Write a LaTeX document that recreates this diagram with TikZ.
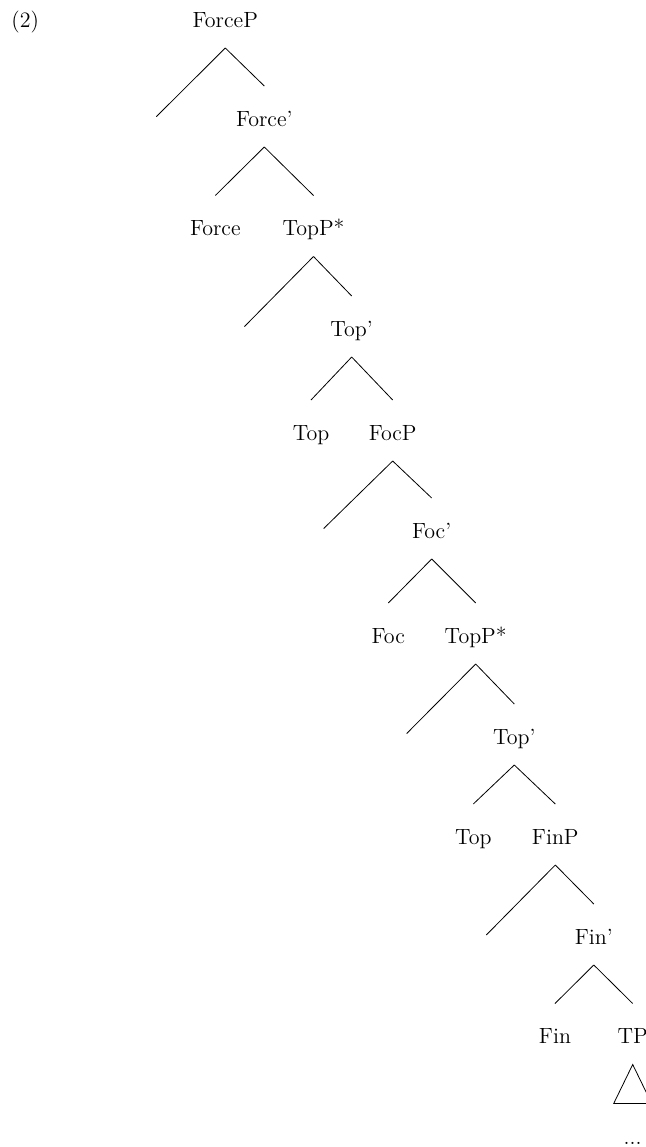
\documentclass[tikz,border=0pt]{standalone}
\usepackage{amsmath, amssymb}
\usepackage{tikz}
\usepackage{xcolor}

\begin{document}
\begin{tikzpicture}[x=0.5pt, y=-0.5pt, every node/.style={anchor=base, inner sep=0pt, font=\fontsize{11}{13.6}\selectfont}]
            \clip (0,0) rectangle (646,1147);

            \node[anchor=base west] (ex) at (11,27) {(2)};

            \node (forceP) at (225.3,27) {ForceP};
            \node (forceB) at (264.3,126) {Force'};
            \node (force) at (215.3,235.5) {Force};
            \node (topPa) at (313.5,235.5) {TopP*};
            \node (topBa) at (351.7,336) {Top'};
            \node (topa) at (311,440) {Top};
            \node (focP) at (392.7,440) {FocP};
            \node (focB) at (431.7,538) {Foc'};
            \node (foc) at (388.3,643) {Foc};
            \node (topPb) at (475.7,643) {TopP*};
            \node (topBb) at (514.3,744) {Top'};
            \node (topb) at (473.3,844) {Top};
            \node (finP) at (555.3,844) {FinP};
            \node (finB) at (593.8,944) {Fin'};
            \node (fin) at (555,1043.5) {Fin};
            \node (tp) at (632.7,1043.5) {TP};
            \node (dots) at (632.7,1144) {...};

            \coordinate (specA) at (156.3,116.7);
            \coordinate (specB) at (244.5,326.5);
            \coordinate (specC) at (323.7,528.5);
            \coordinate (specD) at (406.7,733.5);
            \coordinate (specE) at (486.3,935);

            \draw ([yshift=-10.5pt]forceP.base) -- (specA);
            \draw ([yshift=-10.5pt]forceP.base) -- ([yshift=20pt]forceB.base);
            \draw ([yshift=-10.5pt]forceB.base) -- ([yshift=20pt]force.base);
            \draw ([yshift=-10.5pt]forceB.base) -- ([yshift=20pt]topPa.base);

            \draw ([yshift=-10.5pt]topPa.base) -- (specB);
            \draw ([yshift=-10.5pt]topPa.base) -- ([yshift=20pt]topBa.base);
            \draw ([yshift=-10.5pt]topBa.base) -- ([yshift=20pt]topa.base);
            \draw ([yshift=-10.5pt]topBa.base) -- ([yshift=20pt]focP.base);

            \draw ([yshift=-10.5pt]focP.base) -- (specC);
            \draw ([yshift=-10.5pt]focP.base) -- ([yshift=20pt]focB.base);
            \draw ([yshift=-10.5pt]focB.base) -- ([yshift=20pt]foc.base);
            \draw ([yshift=-10.5pt]focB.base) -- ([yshift=20pt]topPb.base);

            \draw ([yshift=-10.5pt]topPb.base) -- (specD);
            \draw ([yshift=-10.5pt]topPb.base) -- ([yshift=20pt]topBb.base);
            \draw ([yshift=-10.5pt]topBb.base) -- ([yshift=20pt]topb.base);
            \draw ([yshift=-10.5pt]topBb.base) -- ([yshift=20pt]finP.base);

            \draw ([yshift=-10.5pt]finP.base) -- (specE);
            \draw ([yshift=-10.5pt]finP.base) -- ([yshift=20pt]finB.base);
            \draw ([yshift=-10.5pt]finB.base) -- ([yshift=20pt]fin.base);
            \draw ([yshift=-10.5pt]finB.base) -- ([yshift=20pt]tp.base);

            \draw ([yshift=-10.5pt]tp.base) -- ++(-19,39) -- ++(38,0) -- cycle;
        \end{tikzpicture}
\end{document}
